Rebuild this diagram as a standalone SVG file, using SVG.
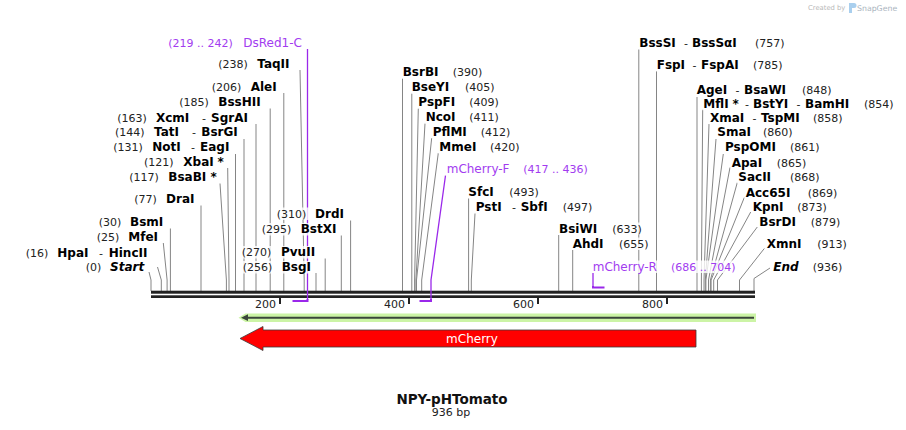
<svg xmlns="http://www.w3.org/2000/svg" width="906" height="430" viewBox="0 0 906 430">
<style>
text{font-family:"DejaVu Sans",Verdana,sans-serif}
.n{font-size:12px;font-weight:bold;fill:#000}
.i{font-style:italic}
.p{font-size:11px;fill:#222}
.d{font-size:11px;fill:#222}
.pr{font-size:12px;fill:#a23cf0}
.pp{font-size:11px;fill:#a23cf0}
.ln{fill:none;stroke:#858585;stroke-width:1}
.pl{fill:none;stroke:#9a28ea;stroke-width:1.3}
.pb{fill:none;stroke:#9a28ea;stroke-width:2}
.bg{fill:#fff;fill-opacity:.8}
.tk{fill:#222}
.tl{font-size:11px;fill:#222;text-anchor:end}
</style>
<rect width="906" height="430" fill="#fff"/>
<g id="logo">
<text x="808" y="10" style="font-size:6.8px;fill:#b9b9b9">Created by</text>
<path d="M849,3 h5 a2.5,2.5 0 0 1 0,5 h-2 v5 h-3 z" fill="#a9cfee"/>
<text x="857" y="11" style="font-size:7.8px;fill:#a9b3bd">SnapGene</text>
</g>
<g id="connectors">
<polyline class="ln" points="149,272 151,280 151,291"/>
<polyline class="ln" points="157.5,267 161.3,280 161.3,291"/>
<polyline class="ln" points="163.3,243 167.1,280 167.1,291"/>
<polyline class="ln" points="170.4,228.5 170.4,291"/>
<polyline class="ln" points="201,205.5 201,291"/>
<polyline class="ln" points="220,183.5 226.4,280 226.4,291"/>
<polyline class="ln" points="227.7,168 229,280 229,291"/>
<polyline class="ln" points="235.5,154 235.5,291"/>
<polyline class="ln" points="244,139 244,291"/>
<polyline class="ln" points="256,124 256,291"/>
<polyline class="ln" points="270.2,108.5 270.2,291"/>
<polyline class="ln" points="283.8,93 283.8,291"/>
<polyline class="ln" points="300,70 304.2,280 304.2,291"/>
<polyline class="ln" points="316,273 316,291"/>
<polyline class="ln" points="325.2,258.5 325.2,291"/>
<polyline class="ln" points="341.3,235.5 341.3,291"/>
<polyline class="ln" points="350.6,220.5 350.6,291"/>
<polyline class="ln" points="402.5,78.5 402.5,291"/>
<polyline class="ln" points="411.8,93.5 411.8,291"/>
<polyline class="ln" points="418.3,108.5 414.6,280 414.6,291"/>
<polyline class="ln" points="425,123.5 415.9,280 415.9,291"/>
<polyline class="ln" points="431.7,138 416.5,280 416.5,291"/>
<polyline class="ln" points="438.3,153 421.7,280 421.7,291"/>
<polyline class="ln" points="468.6,198.5 468.6,291"/>
<polyline class="ln" points="475,213.5 471.3,280 471.3,291"/>
<polyline class="ln" points="558.7,235 558.7,291"/>
<polyline class="ln" points="572.7,250 572.7,291"/>
<polyline class="ln" points="638.8,49.5 638.8,291"/>
<polyline class="ln" points="656.5,71 656.5,291"/>
<polyline class="ln" points="697,97 697,291"/>
<polyline class="ln" points="702.7,109 701.4,280 701.4,291"/>
<polyline class="ln" points="709,124 704,280 704,291"/>
<polyline class="ln" points="716,139 705.3,280 705.3,291"/>
<polyline class="ln" points="723.3,154 705.9,280 705.9,291"/>
<polyline class="ln" points="730,167.5 708.5,280 708.5,291"/>
<polyline class="ln" points="737.3,182.5 710.4,280 710.4,291"/>
<polyline class="ln" points="744.3,197.5 711.1,280 711.1,291"/>
<polyline class="ln" points="750.7,212 713.7,280 713.7,291"/>
<polyline class="ln" points="757.3,227 717.5,280 717.5,291"/>
<polyline class="ln" points="764.3,248.5 739.5,280 739.5,291"/>
<polyline class="ln" points="770,268 754,278.5 754,291"/>
</g>
<g id="backbone">
<rect x="151" y="290.7" width="604" height="3" fill="#222"/>
<rect x="151" y="295.3" width="604" height="2.7" fill="#222"/>
<rect class="tk" x="279" y="297" width="2" height="7"/>
<rect class="tk" x="408" y="297" width="2" height="7"/>
<rect class="tk" x="537" y="297" width="2" height="7"/>
<rect class="tk" x="666" y="297" width="2" height="7"/>
<text class="tl" x="276" y="307.5">200</text>
<text class="tl" x="405" y="307.5">400</text>
<text class="tl" x="534" y="307.5">600</text>
<text class="tl" x="663" y="307.5">800</text>
</g>
<g id="feature-orf">
<polygon points="238.5,317.7 245.5,313.5 756,313.5 756,322 245.5,322" fill="#ccf4a6"/>
<line x1="246" y1="317.7" x2="754" y2="317.7" stroke="#3b463b" stroke-width="2"/>
<polygon points="241,317.7 248,314.3 248,321.1" fill="#3b463b"/>
</g>
<g id="feature-mCherry">
<polygon points="240,338.5 263,326.5 263,330 696,330 696,347 263,347 263,350.5" fill="#ff0000" stroke="#3a3a3a" stroke-width="0.8"/>
<text x="472" y="342.5" text-anchor="middle" style="font-size:12px;fill:#fff">mCherry</text>
</g>
<g id="primer-DsRed1-C">
<polyline class="pl" points="307.5,49 307.5,300"/>
<polyline class="pb" points="307.5,299 307.5,301 292.5,301"/>
<rect class="bg" x="167" y="36.5" width="136" height="12.5"/>
<text y="46.5"><tspan class="pp" x="168.3">(219 .. 242)</tspan><tspan class="pr" x="243.3">DsRed1-C</tspan></text>
</g>
<g id="primer-mCherry-F">
<polyline class="pl" points="445.5,175.5 431,280 431,300"/>
<polyline class="pb" points="431,299 431,301 419.5,301"/>
<rect class="bg" x="445.5" y="163" width="145" height="12.5"/>
<text y="173"><tspan class="pr" x="446.7">mCherry-F</tspan><tspan class="pp" x="523.3">(417 .. 436)</tspan></text>
</g>
<g id="primer-mCherry-R">
<rect class="bg" x="591.5" y="260.5" width="149" height="12.5"/>
<polyline class="pl" points="593,273 593,287"/>
<polyline class="pb" points="593,286 593,287.5 604.5,287.5"/>
<text y="270.5"><tspan class="pr" x="592.7">mCherry-R</tspan><tspan class="pp" x="671">(686 .. 704)</tspan></text>
</g>
<g id="TaqII"><rect class="bg" x="217" y="58" width="79" height="12.5"/><text y="68"><tspan class="p" x="218.3">(238)</tspan><tspan class="n" x="257.3">TaqII</tspan></text></g>
<g id="AleI"><rect class="bg" x="210.5" y="81" width="67" height="12.5"/><text y="91"><tspan class="p" x="211.7">(206)</tspan><tspan class="n" x="250.7">AleI</tspan></text></g>
<g id="BssHII"><rect class="bg" x="178" y="96" width="86" height="12.5"/><text y="106"><tspan class="p" x="179.3">(185)</tspan><tspan class="n" x="218.3">BssHII</tspan></text></g>
<g id="XcmI"><rect class="bg" x="116" y="111.5" width="134" height="12.5"/><text y="121.5"><tspan class="p" x="117.3">(163)</tspan><tspan class="n" x="156">XcmI</tspan><tspan class="d" x="202">-</tspan><tspan class="n" x="211">SgrAI</tspan></text></g>
<g id="TatI"><rect class="bg" x="114" y="126" width="126" height="12.5"/><text y="136"><tspan class="p" x="115">(144)</tspan><tspan class="n" x="154">TatI</tspan><tspan class="d" x="192">-</tspan><tspan class="n" x="201.3">BsrGI</tspan></text></g>
<g id="NotI"><rect class="bg" x="112" y="141" width="119" height="12.5"/><text y="151"><tspan class="p" x="113.3">(131)</tspan><tspan class="n" x="152.3">NotI</tspan><tspan class="d" x="191">-</tspan><tspan class="n" x="200">EagI</tspan></text></g>
<g id="XbaI"><rect class="bg" x="143" y="156" width="82" height="12.5"/><text y="166"><tspan class="p" x="144">(121)</tspan><tspan class="n" x="183.3">XbaI</tspan><tspan class="n" x="217.5">*</tspan></text></g>
<g id="BsaBI"><rect class="bg" x="128" y="170.5" width="89" height="12.5"/><text y="180.5"><tspan class="p" x="129.3">(117)</tspan><tspan class="n" x="168.3">BsaBI</tspan><tspan class="n" x="210.5">*</tspan></text></g>
<g id="DraI"><rect class="bg" x="133" y="193" width="62" height="12.5"/><text y="203"><tspan class="p" x="134.3">(77)</tspan><tspan class="n" x="166">DraI</tspan></text></g>
<g id="BsmI"><rect class="bg" x="97.5" y="216" width="66" height="12.5"/><text y="226"><tspan class="p" x="98.7">(30)</tspan><tspan class="n" x="130">BsmI</tspan></text></g>
<g id="MfeI"><rect class="bg" x="95.5" y="231" width="63" height="12.5"/><text y="241"><tspan class="p" x="96.7">(25)</tspan><tspan class="n" x="128.3">MfeI</tspan></text></g>
<g id="HpaI"><rect class="bg" x="24.5" y="246.5" width="123" height="12.5"/><text y="256.5"><tspan class="p" x="25.7">(16)</tspan><tspan class="n" x="57.3">HpaI</tspan><tspan class="d" x="99">-</tspan><tspan class="n" x="108.7">HincII</tspan></text></g>
<g id="Start"><rect class="bg" x="84.5" y="261" width="60" height="12.5"/><text y="271"><tspan class="p" x="85.7">(0)</tspan><tspan class="n i" x="110">Start</tspan></text></g>
<g id="DrdI"><rect class="bg" x="275.5" y="207.5" width="69" height="12.5"/><text y="217.5"><tspan class="p" x="276.7">(310)</tspan><tspan class="n" x="315">DrdI</tspan></text></g>
<g id="BstXI"><rect class="bg" x="260.5" y="223" width="76" height="12.5"/><text y="233"><tspan class="p" x="261.7">(295)</tspan><tspan class="n" x="300.7">BstXI</tspan></text></g>
<g id="PvuII"><rect class="bg" x="240.5" y="246" width="75" height="12.5"/><text y="256"><tspan class="p" x="241.7">(270)</tspan><tspan class="n" x="281">PvuII</tspan></text></g>
<g id="BsgI"><rect class="bg" x="241.5" y="261" width="70" height="12.5"/><text y="271"><tspan class="p" x="242.7">(256)</tspan><tspan class="n" x="281.7">BsgI</tspan></text></g>
<g id="BsrBI"><rect class="bg" x="401.5" y="66" width="82" height="12.5"/><text y="76"><tspan class="n" x="402.7">BsrBI</tspan><tspan class="p" x="452.7">(390)</tspan></text></g>
<g id="BseYI"><rect class="bg" x="410.5" y="81" width="85" height="12.5"/><text y="91"><tspan class="n" x="411.7">BseYI</tspan><tspan class="p" x="465">(405)</tspan></text></g>
<g id="PspFI"><rect class="bg" x="417" y="96" width="82.5" height="12.5"/><text y="106"><tspan class="n" x="418.3">PspFI</tspan><tspan class="p" x="469.3">(409)</tspan></text></g>
<g id="NcoI"><rect class="bg" x="424.5" y="111" width="75" height="12.5"/><text y="121"><tspan class="n" x="425.7">NcoI</tspan><tspan class="p" x="469.3">(411)</tspan></text></g>
<g id="PflMI"><rect class="bg" x="431.5" y="126" width="79.5" height="12.5"/><text y="136"><tspan class="n" x="432.7">PflMI</tspan><tspan class="p" x="480.7">(412)</tspan></text></g>
<g id="MmeI"><rect class="bg" x="438" y="141" width="82" height="12.5"/><text y="151"><tspan class="n" x="439.3">MmeI</tspan><tspan class="p" x="490">(420)</tspan></text></g>
<g id="SfcI"><rect class="bg" x="467" y="185.5" width="72.5" height="12.5"/><text y="195.5"><tspan class="n" x="468.3">SfcI</tspan><tspan class="p" x="509.3">(493)</tspan></text></g>
<g id="PstI"><rect class="bg" x="474.5" y="200.5" width="118.5" height="12.5"/><text y="210.5"><tspan class="n" x="475.7">PstI</tspan><tspan class="d" x="512">-</tspan><tspan class="n" x="520.7">SbfI</tspan><tspan class="p" x="562.7">(497)</tspan></text></g>
<g id="BsiWI"><rect class="bg" x="558" y="222.5" width="84.5" height="12.5"/><text y="232.5"><tspan class="n" x="559">BsiWI</tspan><tspan class="p" x="612.3">(633)</tspan></text></g>
<g id="AhdI"><rect class="bg" x="571.5" y="237.5" width="77.5" height="12.5"/><text y="247.5"><tspan class="n" x="572.7">AhdI</tspan><tspan class="p" x="619">(655)</tspan></text></g>
<g id="BssSI"><rect class="bg" x="638" y="36.5" width="147" height="12.5"/><text y="46.5"><tspan class="n" x="639.3">BssSI</tspan><tspan class="d" x="684">-</tspan><tspan class="n" x="692">BssSαI</tspan><tspan class="p" x="755">(757)</tspan></text></g>
<g id="FspI"><rect class="bg" x="655.5" y="59" width="128" height="12.5"/><text y="69"><tspan class="n" x="656.7">FspI</tspan><tspan class="d" x="692.5">-</tspan><tspan class="n" x="701">FspAI</tspan><tspan class="p" x="753">(785)</tspan></text></g>
<g id="AgeI"><rect class="bg" x="695.5" y="84.3" width="137" height="12.5"/><text y="94.3"><tspan class="n" x="696.7">AgeI</tspan><tspan class="d" x="735.5">-</tspan><tspan class="n" x="744">BsaWI</tspan><tspan class="p" x="802">(848)</tspan></text></g>
<g id="MflI"><rect class="bg" x="702" y="97.7" width="192" height="12.5"/><text y="107.7"><tspan class="n" x="703.3">MflI</tspan><tspan class="n" x="732.5">*</tspan><tspan class="d" x="745">-</tspan><tspan class="n" x="753">BstYI</tspan><tspan class="d" x="796.5">-</tspan><tspan class="n" x="805">BamHI</tspan><tspan class="p" x="864">(854)</tspan></text></g>
<g id="XmaI"><rect class="bg" x="709" y="111.7" width="134" height="12.5"/><text y="121.7"><tspan class="n" x="710">XmaI</tspan><tspan class="d" x="752.5">-</tspan><tspan class="n" x="761">TspMI</tspan><tspan class="p" x="813">(858)</tspan></text></g>
<g id="SmaI"><rect class="bg" x="716" y="126" width="77" height="12.5"/><text y="136"><tspan class="n" x="717.3">SmaI</tspan><tspan class="p" x="763">(860)</tspan></text></g>
<g id="PspOMI"><rect class="bg" x="724" y="140.7" width="96" height="12.5"/><text y="150.7"><tspan class="n" x="725">PspOMI</tspan><tspan class="p" x="790">(861)</tspan></text></g>
<g id="ApaI"><rect class="bg" x="730.5" y="156.5" width="76" height="12.5"/><text y="166.5"><tspan class="n" x="731.7">ApaI</tspan><tspan class="p" x="776.7">(865)</tspan></text></g>
<g id="SacII"><rect class="bg" x="737" y="171" width="83" height="12.5"/><text y="181"><tspan class="n" x="738.3">SacII</tspan><tspan class="p" x="790">(868)</tspan></text></g>
<g id="Acc65I"><rect class="bg" x="744.5" y="186.5" width="93" height="12.5"/><text y="196.5"><tspan class="n" x="745.7">Acc65I</tspan><tspan class="p" x="807.7">(869)</tspan></text></g>
<g id="KpnI"><rect class="bg" x="751.5" y="201" width="75" height="12.5"/><text y="211"><tspan class="n" x="752.7">KpnI</tspan><tspan class="p" x="797.3">(873)</tspan></text></g>
<g id="BsrDI"><rect class="bg" x="758" y="216" width="83" height="12.5"/><text y="226"><tspan class="n" x="759.3">BsrDI</tspan><tspan class="p" x="810.7">(879)</tspan></text></g>
<g id="XmnI"><rect class="bg" x="765.5" y="238" width="82.5" height="12.5"/><text y="248"><tspan class="n" x="766.7">XmnI</tspan><tspan class="p" x="817.3">(913)</tspan></text></g>
<g id="End"><rect class="bg" x="772" y="261" width="70" height="12.5"/><text y="271"><tspan class="n i" x="773.3">End</tspan><tspan class="p" x="812.7">(936)</tspan></text></g>
<g id="title">
<text x="452" y="403.5" text-anchor="middle" style="font-size:13.5px;font-weight:bold;fill:#111">NPY-pHTomato</text>
<text x="451" y="416" text-anchor="middle" style="font-size:11px;fill:#222">936 bp</text>
</g>
</svg>
